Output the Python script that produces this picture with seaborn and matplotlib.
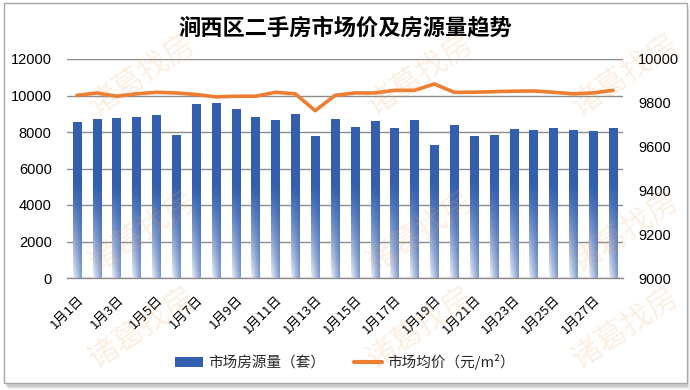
import numpy as np
import pandas as pd
import matplotlib
matplotlib.use("Agg")
import matplotlib.pyplot as plt
import seaborn as sns
from matplotlib.patches import Patch, Rectangle
from matplotlib.lines import Line2D

sns.set_theme(style="white")
plt.rcParams['font.family'] = ['Noto Sans CJK SC', 'DejaVu Sans']

# ---- data ----
days = [f"1月{i}日" for i in range(1, 29)]
listings = [8500, 8710, 8760, 8820, 8930, 7830, 9530, 9580, 9250, 8820,
            8650, 8980, 7770, 8710, 8220, 8600, 8210, 8650, 7280, 8380,
            7770, 7830, 8160, 8100, 8210, 8100, 8050, 8210]
prices = [9834, 9845, 9830, 9841, 9848, 9845, 9838, 9827, 9830, 9830,
          9848, 9841, 9764, 9834, 9845, 9845, 9857, 9857, 9886, 9848,
          9848, 9851, 9853, 9854, 9848, 9841, 9845, 9857]
left_ticks = [0, 2000, 4000, 6000, 8000, 10000, 12000]
right_ticks = [9000, 9200, 9400, 9600, 9800, 10000]
title = "涧西区二手房市场价及房源量趋势"
bar_label = "市场房源量（套）"
line_label = "市场均价（元/m²）"
watermark = "诸葛找房"

df = pd.DataFrame({"day": days, "listings": listings, "price": prices,
                   "pos": np.arange(len(days))})

BLUE = "#335FAE"
ORANGE = "#ED7D31"
GRID = "#8C8C8C"

fig = plt.figure(figsize=(6.9, 3.9), dpi=100)
fig.patch.set_facecolor("white")

# frame with shadow
for i, a in enumerate([0.10, 0.07, 0.04]):
    fig.add_artist(Rectangle((5/690 + (i+1)*1/690, 1 - 385/390 - (i+1)*1.5/390),
                             (682)/690, (380)/390, transform=fig.transFigure,
                             facecolor="black", alpha=a, edgecolor="none", zorder=-3))
fig.add_artist(Rectangle((4/690, 1 - 383/390), 683/690, 380/390,
                         transform=fig.transFigure, facecolor="white",
                         edgecolor="#A6A6A6", lw=1.0, zorder=-2))

ax = fig.add_axes([67/690, 1 - 278/390, (623 - 67)/690, (278 - 59)/390])
ax.patch.set_alpha(0)
sns.barplot(data=df, x="pos", y="listings", color=BLUE, width=0.42, ax=ax,
            zorder=2, native_scale=False)

ax.set_xlim(-0.5, len(days) - 0.5)
ax.set_ylim(0, 12000)

# gradient fill for bars
blue_rgb = np.array(matplotlib.colors.to_rgb(BLUE))
for p in list(ax.patches):
    x0 = p.get_x(); w = p.get_width(); h = p.get_height()
    nr, nc = 200, 24
    v = np.linspace(0, h, nr)[:, None]
    u = np.linspace(0, 1, nc)[None, :]
    fade = np.clip(1 - v / 5200.0, 0, 1) ** 1.2
    wt = fade * (0.92 - 0.55 * u)
    img = blue_rgb[None, None, :] * (1 - wt[..., None]) + wt[..., None]
    ax.imshow(img, extent=[x0, x0 + w, 0, h], origin="lower", aspect="auto",
              zorder=2, interpolation="bilinear")
    p.set_facecolor("none")
    p.set_edgecolor("none")
ax.set_xlim(-0.5, len(days) - 0.5)
ax.set_ylim(0, 12000)

ax.set_yticks(left_ticks)
ax.set_yticklabels([str(t) for t in left_ticks], family=["Liberation Sans", "DejaVu Sans"], fontsize=10.5)
ax.yaxis.grid(True, color=GRID, lw=1.0)
ax.set_axisbelow(True)
for s in ["left", "right", "top"]:
    ax.spines[s].set_visible(False)
ax.spines["bottom"].set_color(GRID)
ax.spines["bottom"].set_linewidth(1.0)
ax.tick_params(axis="y", length=0, pad=11, colors="black")
ax.set_xticks(np.arange(0, len(days), 2))
ax.set_xticklabels(days[::2], rotation=45, ha="right", va="top",
                   rotation_mode="anchor", fontsize=9.5)
ax.tick_params(axis="x", length=0, pad=11, colors="black")
ax.set_xlabel("")
ax.set_ylabel("")

ax2 = ax.twinx()
sns.lineplot(data=df, x="pos", y="price", color=ORANGE, lw=2.6, ax=ax2)
ax2.set_ylim(9000, 10000)
ax2.set_yticks(right_ticks)
ax2.set_yticklabels([str(t) for t in right_ticks], family=["Liberation Sans", "DejaVu Sans"], fontsize=10.5)
ax2.tick_params(axis="y", length=0, pad=11, colors="black")
for s in ax2.spines.values():
    s.set_visible(False)
ax2.grid(False)
ax2.set_ylabel("")
ax2.set_xlabel("")
ax2.set_xlim(-0.5, len(days) - 0.5)

fig.text(0.5, 1 - 28/390, title, ha="center", va="center", fontsize=16,
         fontweight="bold", color="black")

handles = [Patch(facecolor=BLUE, edgecolor="none"),
           Line2D([0], [0], color=ORANGE, lw=3)]
fig.legend(handles, [bar_label, line_label], loc="center",
           bbox_to_anchor=(0.5, 1 - 362/390), ncol=2, frameon=False,
           fontsize=10.5, handlelength=1.9, handletextpad=0.35,
           columnspacing=2.0)

# watermark (kept inside the canvas)
for cx in [142, 420, 625]:
    for cy in [75, 232, 328]:
        fig.text(cx/690, 1 - cy/390, watermark, rotation=34, ha="center",
                 va="center", fontsize=22, color="#F4A460", alpha=0.18,
                 zorder=5)

fig.savefig("out.png", dpi=100, facecolor="white")
